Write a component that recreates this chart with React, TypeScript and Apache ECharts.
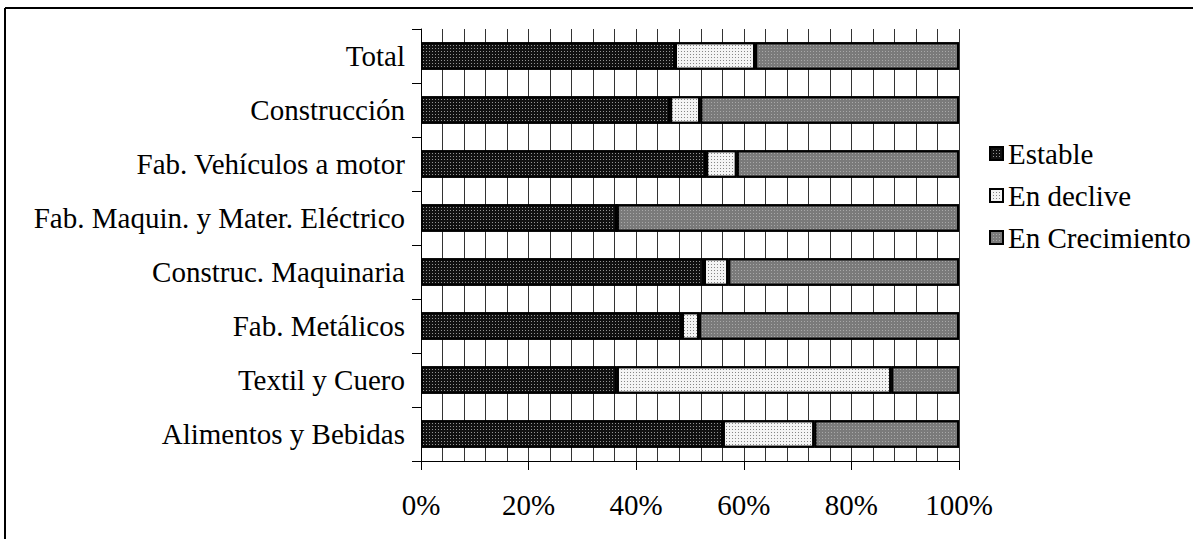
import React, { useEffect, useRef } from "react";
import * as echarts from "echarts";

const categories = [
  "Alimentos y Bebidas",
  "Textil y Cuero",
  "Fab. Metálicos",
  "Construc. Maquinaria",
  "Fab. Maquin. y Mater. Eléctrico",
  "Fab. Vehículos a motor",
  "Construcción",
  "Total",
];
const estable = [56.1, 36.4, 48.5, 52.6, 36.4, 53.0, 46.3, 47.2];
const enDeclive = [17.0, 51.0, 3.2, 4.5, 0, 5.7, 5.6, 14.9];
const enCrecimiento = [26.9, 12.6, 48.3, 42.9, 63.6, 41.3, 48.1, 37.9];
const seriesNames = ["Estable", "En declive", "En Crecimiento"];

const FONT = "Liberation Serif";
const FS = 29;

export default function App() {
  const ref = useRef<HTMLDivElement>(null);
  useEffect(() => {
    if (!ref.current) return;
    const chart = echarts.init(ref.current, null, { renderer: "svg" });
    const mk = (name: string, data: number[], color: string, decalColor: string) => ({
      name,
      type: "bar",
      stack: "all",
      data,
      barWidth: "51%",
      itemStyle: {
        color,
        borderColor: "#000",
        borderWidth: 2,
        decal: {
          symbol: "rect",
          symbolSize: 1,
          color: decalColor,
          dashArrayX: [1, 2],
          dashArrayY: [1, 2],
          rotation: 0,
        },
      },
      emphasis: { disabled: true },
    });
    chart.setOption({
      animation: false,
      textStyle: { fontFamily: FONT },
      grid: { left: 421, right: 234, top: 29, bottom: 78, containLabel: false },
      xAxis: {
        type: "value",
        min: 0,
        max: 100,
        interval: 20,
        axisLine: { show: true, lineStyle: { color: "#000", width: 1 } },
        axisTick: { show: true, length: 9, lineStyle: { color: "#000" } },
        axisLabel: {
          formatter: "{value}%",
          fontFamily: FONT,
          fontSize: FS,
          color: "#000",
          margin: 29,
        },
        splitLine: { show: true, lineStyle: { color: "#333", width: 1 } },
        minorTick: { show: false, splitNumber: 5 },
        minorSplitLine: { show: true, lineStyle: { color: "#333", width: 1 } },
      },
      yAxis: {
        type: "category",
        data: categories,
        axisLine: { show: true, lineStyle: { color: "#000", width: 1 } },
        axisTick: { show: true, length: 9, lineStyle: { color: "#000" } },
        axisLabel: {
          fontFamily: FONT,
          fontSize: FS,
          color: "#000",
          margin: 16,
        },
        splitLine: { show: false },
      },
      legend: {
        orient: "vertical",
        left: 984,
        top: 134,
        itemWidth: 13,
        itemHeight: 13,
        itemGap: 13,
        icon: "rect",
        textStyle: { fontFamily: FONT, fontSize: FS, color: "#000" },
        data: seriesNames,
      },
      graphic: [
        { type: "line", shape: { x1: 5, y1: 8, x2: 1193, y2: 8 }, style: { stroke: "#000", lineWidth: 2 } },
        { type: "line", shape: { x1: 5, y1: 8, x2: 5, y2: 539 }, style: { stroke: "#000", lineWidth: 2 } },
      ],
      series: [
        mk(seriesNames[0], estable, "#111", "rgba(255,255,255,0.55)"),
        mk(seriesNames[1], enDeclive, "#f4f4f4", "rgba(0,0,0,0.45)"),
        mk(seriesNames[2], enCrecimiento, "#7a7a7a", "rgba(255,255,255,0.35)"),
      ],
    });
    return () => chart.dispose();
  }, []);
  return (
    <div
      ref={ref}
      style={{ position: "absolute", left: 0, top: 0, width: 1193, height: 539, background: "#fff" }}
    />
  );
}
